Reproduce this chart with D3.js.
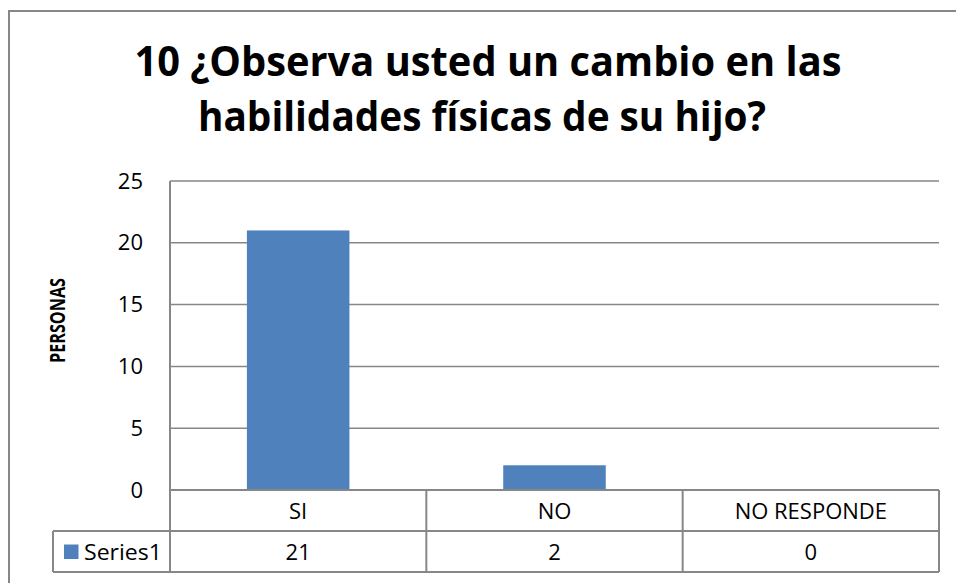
<!DOCTYPE html>
<html><head><meta charset="utf-8">
<script src="https://cdn.jsdelivr.net/npm/d3@7"></script>
<style>html,body{margin:0;padding:0;background:#fff;}svg{display:block;}</style>
</head><body>
<script>
const titleLines = ["10 ¿Observa usted un cambio en las", "habilidades físicas de su hijo?"];
const categories = ["SI", "NO", "NO RESPONDE"];
const seriesName = "Series1";
const values = [21, 2, 0];
const yTicks = [0, 5, 10, 15, 20, 25];
const yTitle = "PERSONAS";

const W = 956, H = 583;
const plot = {left: 170, right: 939, top: 181, bottom: 490};
const rowH = 41;
const tableLeft = 53;
const gray = "#878787";
const barColor = "#4F81BD";
const font = "'Open Sans', 'Liberation Sans', sans-serif";

const svg = d3.select("body").append("svg").attr("width", W).attr("height", H);
svg.append("rect").attr("width", W).attr("height", H).attr("fill", "#fff");

// outer chart border (extends past canvas right/bottom)
svg.append("rect").attr("x", 9).attr("y", 11).attr("width", 1000).attr("height", 700)
  .attr("fill", "none").attr("stroke", gray).attr("stroke-width", 2);

// title
const titleBase = [76, 131];
const titleLen = [707, 568];
const titleCx = [488, 482];
titleLines.forEach((t, i) => {
  svg.append("text").attr("x", titleCx[i]).attr("y", titleBase[i])
    .attr("text-anchor", "middle").attr("font-family", font).attr("font-weight", 700)
    .attr("font-size", 41).attr("fill", "#000")
    .attr("textLength", titleLen[i]).attr("lengthAdjust", "spacingAndGlyphs").text(t);
});

const x = d3.scaleBand().domain(categories).range([plot.left, plot.right])
  .paddingInner(0.6).paddingOuter(0.3);
const xCells = d3.scaleBand().domain(categories).range([plot.left, plot.right]);
const y = d3.scaleLinear().domain([0, 25]).range([plot.bottom, plot.top]);

// gridlines
svg.append("g").selectAll("line").data(yTicks.filter(d => d > 0)).join("line")
  .attr("x1", plot.left).attr("x2", plot.right)
  .attr("y1", d => y(d)).attr("y2", d => y(d))
  .attr("stroke", gray).attr("stroke-width", 1.5);

// y axis labels via d3 axis
const yAxis = svg.append("g").attr("transform", `translate(${plot.left},0)`)
  .call(d3.axisLeft(y).tickValues(yTicks).tickSize(0).tickPadding(27));
yAxis.select(".domain").remove();
yAxis.selectAll("text").attr("font-family", font).attr("font-size", 22).attr("fill", "#000");

// bars
svg.append("g").selectAll("rect").data(categories).join("rect")
  .attr("x", d => x(d)).attr("width", x.bandwidth())
  .attr("y", (d, i) => y(values[i])).attr("height", (d, i) => y(0) - y(values[i]))
  .attr("fill", barColor);

// y axis line
svg.append("line").attr("x1", plot.left).attr("x2", plot.left)
  .attr("y1", plot.top).attr("y2", plot.bottom + 2 * rowH)
  .attr("stroke", gray).attr("stroke-width", 2);

// table
const tg = svg.append("g");
const hl = (x1, x2, yy) => tg.append("line").attr("x1", x1).attr("x2", x2).attr("y1", yy).attr("y2", yy)
  .attr("stroke", gray).attr("stroke-width", 2);
const vl = (xx, y1, y2) => tg.append("line").attr("x1", xx).attr("x2", xx).attr("y1", y1).attr("y2", y2)
  .attr("stroke", gray).attr("stroke-width", 2);
hl(plot.left, plot.right, plot.bottom);
hl(tableLeft, plot.right, plot.bottom + rowH);
hl(tableLeft, plot.right, plot.bottom + 2 * rowH);
categories.forEach(c => vl(xCells(c) + xCells.bandwidth(), plot.bottom, plot.bottom + 2 * rowH));
vl(tableLeft, plot.bottom + rowH, plot.bottom + 2 * rowH);

tg.selectAll("text.cat").data(categories).join("text").attr("class", "cat")
  .attr("x", d => xCells(d) + xCells.bandwidth() / 2).attr("y", plot.bottom + 28.5)
  .attr("text-anchor", "middle").attr("font-family", font).attr("font-size", 22).attr("fill", "#000")
  .text(d => d);
tg.selectAll("text.val").data(values).join("text").attr("class", "val")
  .attr("x", (d, i) => xCells(categories[i]) + xCells.bandwidth() / 2).attr("y", plot.bottom + rowH + 28.5)
  .attr("text-anchor", "middle").attr("font-family", font).attr("font-size", 22).attr("fill", "#000")
  .text(d => d);

// legend key + series name
tg.append("rect").attr("x", 64).attr("y", plot.bottom + rowH + 13.5).attr("width", 14.5).attr("height", 14.5)
  .attr("fill", barColor);
tg.append("text").attr("x", 84).attr("y", plot.bottom + rowH + 28.5)
  .attr("font-family", font).attr("font-size", 22).attr("fill", "#000")
  .attr("textLength", 78).attr("lengthAdjust", "spacingAndGlyphs").text(seriesName);

// y title
svg.append("text").attr("transform", "translate(65,320.5) rotate(-90)")
  .attr("text-anchor", "middle").attr("font-family", font).attr("font-weight", 700)
  .attr("font-size", 21).attr("fill", "#000")
  .attr("textLength", 85).attr("lengthAdjust", "spacingAndGlyphs").text(yTitle);
</script>
</body></html>
